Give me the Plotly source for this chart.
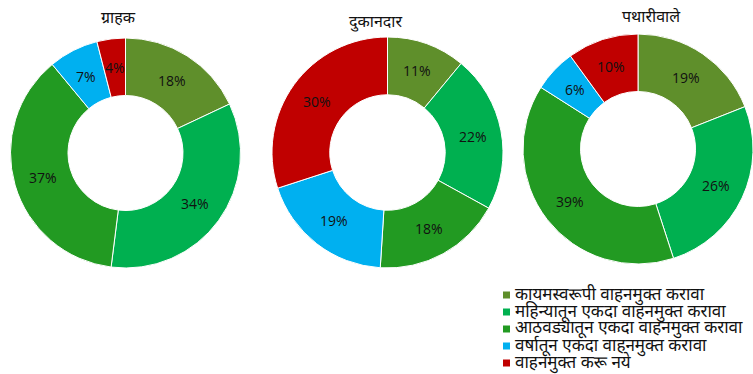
import math
import plotly.graph_objects as go

# Survey answers, in clockwise order from 12 o'clock
categories = [
    "कायमस्वरूपी वाहनमुक्त करावा",
    "महिन्यातून एकदा वाहनमुक्त करावा",
    "आठवड्यातून एकदा वाहनमुक्त करावा",
    "वर्षातून एकदा वाहनमुक्त करावा",
    "वाहनमुक्त करू नये",
]
groups = ["ग्राहक", "दुकानदार", "पथारीवाले"]
customers = [18, 34, 37, 7, 4]
shopkeepers = [11, 22, 18, 19, 30]
vendors = [19, 26, 39, 6, 10]

colors = ["#5F8F2B", "#00B050", "#229A22", "#00B0F0", "#C00000"]

W, H = 753, 374
HOLE = 0.5
# pixel boxes (left, right, top, bottom) for each donut
boxes = [(10, 241, 38, 268), (272, 503, 37, 268), (523, 753, 33, 265)]
title_pos = [(118, 20), (375, 23), (651, 18)]

deva = "Noto Sans Devanagari, Noto Sans, sans-serif"
num_font = "Open Sans, sans-serif"

fig = go.Figure()
for i, (name, vals) in enumerate(zip(groups, [customers, shopkeepers, vendors])):
    l, r, t, b = boxes[i]
    fig.add_trace(go.Pie(
        labels=categories,
        values=vals,
        name=name,
        hole=HOLE,
        sort=False,
        direction="clockwise",
        rotation=0,
        marker=dict(colors=colors, line=dict(color="white", width=1)),
        textinfo="none",
        domain=dict(x=[l / W, r / W], y=[1 - b / H, 1 - t / H]),
        showlegend=False,
        hoverinfo="label+percent",
    ))

    # percentage labels at the middle of each ring segment
    cx, cy = (l + r) / 2, (t + b) / 2
    rad = min(r - l, b - t) / 2 * (1 + HOLE) / 2
    total = sum(vals)
    cum = 0
    for v in vals:
        ang = 2 * math.pi * (cum + v / 2) / total
        cum += v
        px = cx + rad * math.sin(ang)
        py = cy - rad * math.cos(ang)
        fig.add_annotation(
            text=f"{v}%", x=px / W, y=1 - py / H, xref="paper", yref="paper",
            showarrow=False, xanchor="center", yanchor="middle",
            font=dict(size=14, color="#111111", family=num_font),
        )

for name, (x, y) in zip(groups, title_pos):
    fig.add_annotation(
        text=name, x=x / W, y=1 - y / H, xref="paper", yref="paper",
        showarrow=False, font=dict(size=16, color="#111111", family=deva),
        xanchor="center", yanchor="middle",
    )

# compact legend: colour square followed by the answer text
leg_x, leg_y0, leg_step = 503, 295, 17
for k, (cat, col) in enumerate(zip(categories, colors)):
    yy = leg_y0 + k * leg_step
    fig.add_shape(
        type="rect", xref="paper", yref="paper",
        x0=leg_x / W, x1=(leg_x + 7) / W,
        y0=1 - (yy + 3.5) / H, y1=1 - (yy - 3.5) / H,
        fillcolor=col, line=dict(width=0),
    )
    fig.add_annotation(
        text=cat, x=(leg_x + 10) / W, y=1 - yy / H, xref="paper", yref="paper",
        showarrow=False, xanchor="left", yanchor="middle",
        font=dict(size=17, color="#111111", family=deva),
    )

fig.update_layout(
    width=W, height=H,
    margin=dict(l=0, r=0, t=0, b=0, autoexpand=False),
    paper_bgcolor="white",
    plot_bgcolor="white",
    font=dict(family=deva, color="#111111"),
    showlegend=False,
)

fig.write_html("out.html")
